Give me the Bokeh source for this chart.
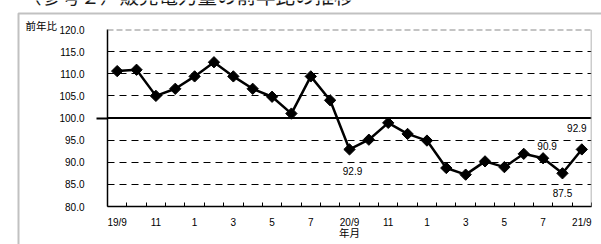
import numpy as np
from bokeh.plotting import figure
from bokeh.models import (Range1d, FixedTicker, NumeralTickFormatter, Span,
                          BoxAnnotation, ColumnDataSource)
from bokeh.core.properties import value
from bokeh.embed import file_html
from bokeh.resources import INLINE

# ---- data ----
months = ["19/9", "19/10", "19/11", "19/12", "20/1", "20/2", "20/3", "20/4", "20/5",
          "20/6", "20/7", "20/8", "20/9", "20/10", "20/11", "20/12", "21/1", "21/2",
          "21/3", "21/4", "21/5", "21/6", "21/7", "21/8", "21/9"]
yoy = [110.6, 110.9, 105.0, 106.6, 109.4, 112.6, 109.4, 106.6, 104.8, 101.0, 109.4, 104.0,
       92.9, 95.1, 98.9, 96.4, 94.9, 88.7, 87.2, 90.2, 88.9, 91.9, 90.9, 87.5, 92.9]
tick_idx = [0, 2, 4, 6, 8, 10, 12, 14, 16, 18, 20, 22, 24]
tick_labels = ["19/9", "11", "1", "3", "5", "7", "20/9", "11", "1", "3", "5", "7", "21/9"]
y_ticks = [80, 85, 90, 95, 100, 105, 110, 115, 120]
label_idx = [12, 22, 23, 24]
# label offsets (style, px)
label_dx = [3, 4, 0, -5]
label_dy = [22, -12, 20, -21]

title_text = "（参考２）販売電力量の前年比の推移"
y_title = "前年比"
x_title = "年月"

n = len(months)
xs = list(range(n))

LAT = "Liberation Sans"
CJK = "Noto Sans CJK JP"
W, H = 601, 244

# ---- background layer: page frame and titles (canvas pixel coordinates) ----
bg = figure(width=W, height=H, output_backend="svg", toolbar_location=None,
            x_range=Range1d(0, W), y_range=Range1d(H, 0), min_border=0,
            x_axis_type=None, y_axis_type=None)
bg.min_border_left = bg.min_border_right = bg.min_border_top = bg.min_border_bottom = 0
bg.outline_line_color = None
bg.background_fill_color = "white"
bg.border_fill_color = "white"
bg.styles = {"position": "absolute", "left": "0px", "top": "0px", "z-index": "0"}
bg.add_layout(BoxAnnotation(left=18, right=W + 50, top=13, bottom=H + 50,
                            left_units="canvas", right_units="canvas",
                            top_units="canvas", bottom_units="canvas",
                            fill_color=None, line_color="#333333", line_width=2))
bg.text(x=[21.5], y=[-5], text=[title_text], text_baseline="alphabetic", text_align="left",
        text_font=value(CJK), text_font_size="19.5px", text_color="#1a1a1a")
bg.text(x=[25], y=[25], text=[y_title], text_baseline="middle", text_align="left",
        text_font=value(CJK), text_font_size="10.5px", text_color="black")

# ---- main chart ----
p = figure(width=W, height=H, output_backend="svg", toolbar_location=None,
           x_range=Range1d(-0.5, n - 0.5), y_range=Range1d(y_ticks[0], y_ticks[-1]),
           min_border_left=107, min_border_right=10, min_border_top=29, min_border_bottom=38)
p.styles = {"position": "absolute", "left": "0px", "top": "0px", "z-index": "1"}
p.background_fill_color = None
p.border_fill_color = None
p.outline_line_color = None

p.xgrid.visible = False
p.ygrid.ticker = FixedTicker(ticks=[t for t in y_ticks if t not in (y_ticks[0], 100, y_ticks[-1])])
p.ygrid.grid_line_color = "black"
p.ygrid.grid_line_dash = "7 5"
p.ygrid.grid_line_width = 1

p.add_layout(Span(location=100, dimension="width", line_color="black", line_width=2))
p.add_layout(Span(location=y_ticks[-1], dimension="width", line_color="#8a8a8a",
                  line_width=2, line_dash="6 3"))
p.add_layout(Span(location=n - 0.5, dimension="height", line_color="#9a9a9a", line_width=1.5))

ya = p.yaxis[0]
ya.ticker = FixedTicker(ticks=y_ticks, minor_ticks=[100])
ya.formatter = NumeralTickFormatter(format="0.0")
ya.major_tick_out = 0
ya.major_tick_in = 0
ya.minor_tick_out = 11
ya.minor_tick_in = 0
ya.minor_tick_line_width = 2
ya.minor_tick_line_color = "black"
ya.major_label_standoff = 12
ya.axis_line_width = 1.5
ya.axis_line_color = "black"
ya.major_label_text_font = LAT
ya.major_label_text_font_size = "10px"
ya.major_label_text_color = "black"

xa = p.xaxis[0]
xa.ticker = FixedTicker(ticks=tick_idx, minor_ticks=[i - 0.5 for i in range(n + 1)])
xa.major_label_overrides = {i: lab for i, lab in zip(tick_idx, tick_labels)}
xa.major_tick_out = 0
xa.major_tick_in = 0
xa.minor_tick_in = 4
xa.minor_tick_out = 0
xa.minor_tick_line_color = "black"
xa.axis_line_width = 1.5
xa.axis_line_color = "black"
xa.major_label_standoff = 10
xa.major_label_text_font = LAT
xa.major_label_text_font_size = "10px"
xa.major_label_text_color = "black"
xa.axis_label = x_title
xa.axis_label_text_font = CJK
xa.axis_label_text_font_size = "10.5px"
xa.axis_label_text_font_style = "normal"
xa.axis_label_standoff = -6
xa.axis_label_text_color = "black"

p.line(xs, yoy, line_color="black", line_width=2.5)
p.scatter(xs, yoy, marker="square", angle=np.pi / 4, size=8, color="black")

src = ColumnDataSource(dict(
    x=[xs[i] for i in label_idx],
    y=[yoy[i] for i in label_idx],
    t=["%.1f" % yoy[i] for i in label_idx],
    dx=label_dx,
    dy=label_dy,
))
p.text(x="x", y="y", text="t", x_offset="dx", y_offset="dy", source=src,
       text_align="center", text_baseline="middle", text_font=value(LAT),
       text_font_size="10px", text_color="black")

open("out.html", "w").write(file_html([bg, p], INLINE))
